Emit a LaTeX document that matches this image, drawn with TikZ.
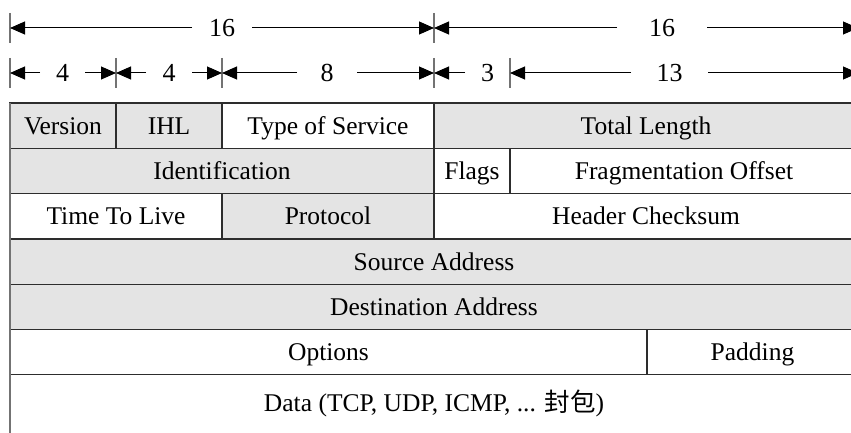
\documentclass[tikz,border=0pt]{standalone}
\usepackage{fontspec}
\setmainfont{Liberation Serif}
\newfontfamily\cjk{Noto Sans CJK TC}
\usetikzlibrary{positioning,arrows.meta}
\definecolor{cellgray}{RGB}{228,228,228}
\definecolor{ruleline}{RGB}{45,45,45}
\definecolor{tickgray}{RGB}{115,115,115}
\begin{document}
\begin{tikzpicture}[x=1pt, y=-1pt,
  field/.style={draw=ruleline, line width=1.2pt, minimum height=45.3pt, inner sep=0pt, outer sep=0pt,
    text height=17pt, text depth=0pt, anchor=north west, font=\fontsize{25.5}{30}\selectfont},
  shaded/.style={field, fill=cellgray},
  dimlabel/.style={inner sep=0pt, outer sep=0pt, text height=18pt, text depth=0pt, font=\fontsize{26}{30}\selectfont},
  dim/.style={-{Triangle[length=15pt,width=13pt]}, line width=1pt},
  tick/.style={draw=tickgray, line width=1.5pt}]

  \useasboundingbox (0,0) rectangle (851,433);
  \clip (0,0) rectangle (851,433);

  % First row
  \node[shaded, minimum width=106pt] (V) at (10,103) {Version};
  \node[shaded, minimum width=106pt, right=0pt of V] (IHL) {IHL};
  \node[field, minimum width=212pt, right=0pt of IHL] (TOS) {Type of Service};
  \node[shaded, minimum width=424pt, right=0pt of TOS] (TL) {Total Length};

  % Second row
  \node[shaded, minimum width=424pt, below=0pt of V.south west, anchor=north west] (ID) {Identification};
  \node[field, minimum width=76pt, right=0pt of ID] (FL) {Flags};
  \node[field, minimum width=348pt, right=0pt of FL] (FO) {Fragmentation Offset};

  % Third row
  \node[field, minimum width=212pt, below=0pt of ID.south west, anchor=north west] (TTL) {Time To Live};
  \node[shaded, minimum width=212pt, right=0pt of TTL] (PR) {Protocol};
  \node[field, minimum width=424pt, right=0pt of PR] (HC) {Header Checksum};

  % Addresses
  \node[shaded, minimum width=848pt, below=0pt of TTL.south west, anchor=north west] (SA) {Source Address};
  \node[shaded, minimum width=848pt, below=0pt of SA.south west, anchor=north west] (DA) {Destination Address};

  % Options and data
  \node[field, minimum width=637pt, below=0pt of DA.south west, anchor=north west] (OP) {Options};
  \node[field, minimum width=211pt, right=0pt of OP] (PD) {Padding};
  \node[field, draw=none, minimum width=848pt, minimum height=57pt, below=0pt of OP.south west, anchor=north west] (DT) {Data (TCP, UDP, ICMP, ... {\cjk 封包})};

  % left border
  \coordinate (bottom) at (10,433);
  \draw[draw=tickgray, line width=1.8pt] (V.north west) -- (bottom);

  % Bit widths, upper line
  \coordinate (t0) at (10,28);
  \coordinate (t16) at (434,28);
  \coordinate (t32) at (858,28);
  \node[dimlabel, minimum width=60pt] (W16a) at (222,28) {16};
  \node[dimlabel, minimum width=90pt] (W16b) at (662,28) {16};

  % Bit widths, lower line
  \coordinate (b0) at (10,73);
  \coordinate (b4) at (116,73);
  \coordinate (b8) at (222,73);
  \coordinate (b16) at (434,73);
  \coordinate (b19) at (510,73);
  \coordinate (b32) at (858,73);
  \node[dimlabel, minimum width=45pt] (W4a) at (62.5,73) {4};
  \node[dimlabel, minimum width=46pt] (W4b) at (169,73) {4};
  \node[dimlabel, minimum width=60pt] (W8) at (327,73) {8};
  \node[dimlabel, minimum width=45pt] (W3) at (487.5,73) {3};
  \node[dimlabel, minimum width=77pt] (W13) at (669.5,73) {13};

  % ticks
  \foreach \x in {10,434} \draw[tick] (\x,13) -- (\x,43);
  \foreach \x in {10,116,222,434,510} \draw[tick] (\x,58) -- (\x,88);

  % arrows
  \draw[dim] (W16a) -- (t0);
  \draw[dim] (W16a) -- (t16);
  \draw[dim] (W16b) -- (t16);
  \draw[dim] (W16b) -- (t32);
  \draw[dim] (W4a) -- (b0);
  \draw[dim] (W4a) -- (b4);
  \draw[dim] (W4b) -- (b4);
  \draw[dim] (W4b) -- (b8);
  \draw[dim] (W8) -- (b8);
  \draw[dim] (W8) -- (b16);
  \draw[dim] (W3) -- (b16);
  \draw[dim] (W13) -- (b19);
  \draw[dim] (W13) -- (b32);

\end{tikzpicture}
\end{document}
